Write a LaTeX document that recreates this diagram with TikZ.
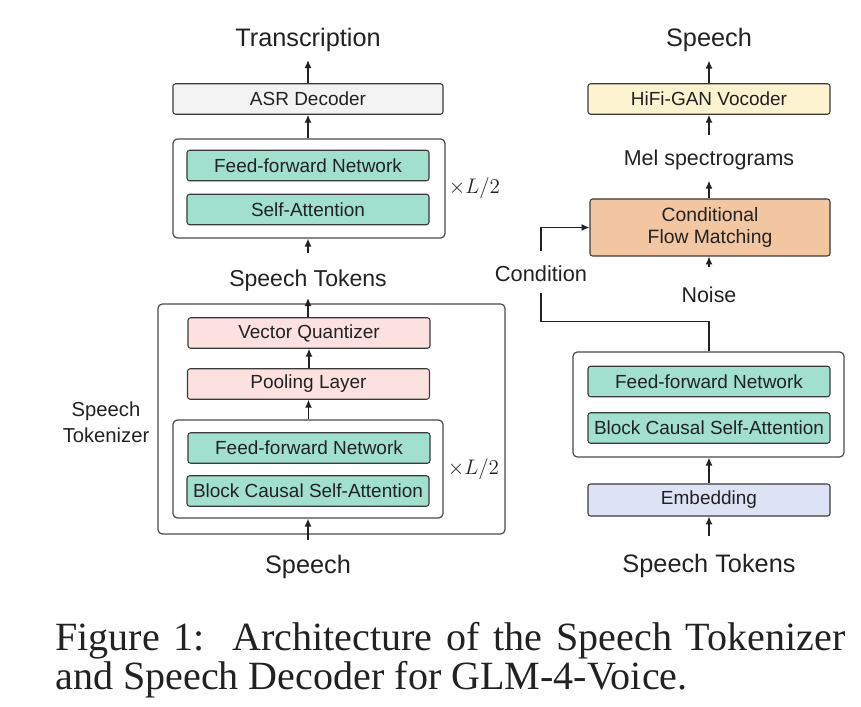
\documentclass[tikz,border=0pt]{standalone}
\usepackage{fontspec}
\setmainfont{Liberation Sans}
\newfontfamily\capfont{Liberation Serif}
\usetikzlibrary{arrows.meta,positioning,fit}
\definecolor{ink}{HTML}{222222}
\definecolor{edge}{HTML}{3A3A3A}
\definecolor{frame}{HTML}{4A4A4A}
\definecolor{asrgray}{HTML}{F3F3F3}
\definecolor{mintgreen}{HTML}{A0E0CC}
\definecolor{rosebg}{HTML}{FDE1E1}
\definecolor{vocyellow}{HTML}{FDF3D0}
\definecolor{flowpeach}{HTML}{F2C6A1}
\definecolor{embblue}{HTML}{DDE3F4}
\tikzset{
  >={Latex[length=4.5pt,width=4pt]},
  every node/.style={text=ink},
  plain/.style={draw=edge,rounded corners=1.5pt,line width=0.6pt,minimum width=48.4mm,minimum height=6.1mm,inner sep=0pt,font=\fontsize{10.8}{13}\selectfont},
  attn/.style={plain,fill=mintgreen},
  quant/.style={plain,fill=rosebg},
  stack/.style={draw=frame,rounded corners=2.5pt,line width=0.7pt,inner sep=0pt},
  tag/.style={inner sep=0pt,anchor=base,font=\fontsize{14.4}{17}\selectfont},
  repeat/.style={inner sep=0pt,font=\fontsize{12}{14}\selectfont},
  arrow/.style={->,line width=0.7pt,draw=ink},
  link/.style={line width=0.7pt,draw=ink}
}

\begin{document}
\begin{tikzpicture}[x=0.2mm,y=-0.2mm]
  \useasboundingbox (0,0) rectangle (861,707);

  % speech tokenizer and ASR decoder
  \node[tag] (transcr) at (308,47) {Transcription};
  \node[plain,fill=asrgray,minimum width=54mm] (asr) at (308,99) {ASR Decoder};
  \node[attn] (dffn) at (308,165.5) {Feed-forward Network};
  \node[attn] (dsa) at (308,209.5) {Self-Attention};
  \node[stack,fit={(173,139) (445,238)}] (dblock) {};
  \node[repeat,right=0.6mm of dblock] (drep) {$\times L/2$};
  \node[tag,font=\fontsize{13.1}{16}\selectfont] (stok) at (308,287) {Speech Tokens};
  \node[quant] (vq) at (309,333) {Vector Quantizer};
  \node[quant] (pool) at (308.5,384) {Pooling Layer};
  \node[attn] (tffn) at (309,448) {Feed-forward Network};
  \node[attn] (tbca) at (308,491) {Block Causal Self-Attention};
  \node[stack,fit={(173,420) (443,518)}] (tblock) {};
  \node[repeat,right=0.8mm of tblock] (trep) {$\times L/2$};
  \node[stack,fit={(158,304) (505,534)}] (tok) {};
  \node[align=center,inner sep=0pt,font=\fontsize{11.5}{14.7}\selectfont] (toklbl) at (106,422) {Speech\\Tokenizer};
  \node[tag] (speech) at (308,573) {Speech};

  % speech decoder
  \node[tag] (outspeech) at (709,47) {Speech};
  \node[plain,fill=vocyellow] (voc) at (709,99) {HiFi-GAN Vocoder};
  \node[tag,font=\fontsize{12.2}{15}\selectfont] (mel) at (709,166) {Mel spectrograms};
  \node[plain,fill=flowpeach,minimum width=48mm,minimum height=11.4mm,align=center,font=\fontsize{11}{13}\selectfont] (cfm) at (710,227.5) {Conditional\\Flow Matching};
  \node[tag,font=\fontsize{12.2}{15}\selectfont] (noise) at (709,303) {Noise};
  \node[tag,font=\fontsize{12.4}{15}\selectfont] (cond) at (541,282) {Condition};
  \node[attn] (rffn) at (709,381.5) {Feed-forward Network};
  \node[attn] (rbca) at (709,428) {Block Causal Self-Attention};
  \node[stack,fit={(573,352) (844,457)}] (rblock) {};
  \node[plain,fill=embblue,minimum height=6.4mm] (emb) at (709,500) {Embedding};
  \node[tag] (rstok) at (709,572) {Speech Tokens};

  % caption
  \node[anchor=north west,inner sep=0pt,text width=158mm,align=justify,font=\capfont\fontsize{22.8}{19.8}\selectfont] (caption) at (55,622) {Figure 1:\ \ Architecture of the Speech Tokenizer and Speech Decoder for GLM-4-Voice.};

  % connectors
  \draw[arrow,shorten >=1.5mm] (asr.north) -- (transcr.south);
  \draw[arrow] (dblock.north -| asr) -- (asr.south);
  \draw[arrow,shorten <=3.4mm] (stok.north) -- (stok.north |- dblock.south);
  \draw[arrow,shorten >=1.2mm] (vq.north -| stok) -- (stok.south);
  \draw[arrow] (pool.north -| vq) -- (vq.south);
  \draw[arrow] (tblock.north -| pool) -- (pool.south);
  \draw[arrow,shorten <=2.8mm] (speech.north) -- (speech.north |- tblock.south);

  \draw[arrow,shorten >=1.6mm] (voc.north) -- (outspeech.south);
  \draw[arrow,shorten <=3mm] (mel.north) -- (mel.north |- voc.south);
  \draw[arrow,shorten >=2mm] (mel.south |- cfm.north) -- (mel.south);
  \draw[arrow,shorten <=4mm] (noise.north) -- (noise.north |- cfm.south);
  \draw[link,shorten >=2mm] (rblock.north -| rffn) -- ++(0,-30) -| (cond.south);
  \draw[arrow,shorten <=3mm] (cond.north) |- (cfm.west);
  \draw[arrow] (emb.north) -- (emb.north |- rblock.south);
  \draw[arrow,shorten <=3.4mm] (rstok.north) -- (rstok.north |- emb.south);
\end{tikzpicture}
\end{document}
